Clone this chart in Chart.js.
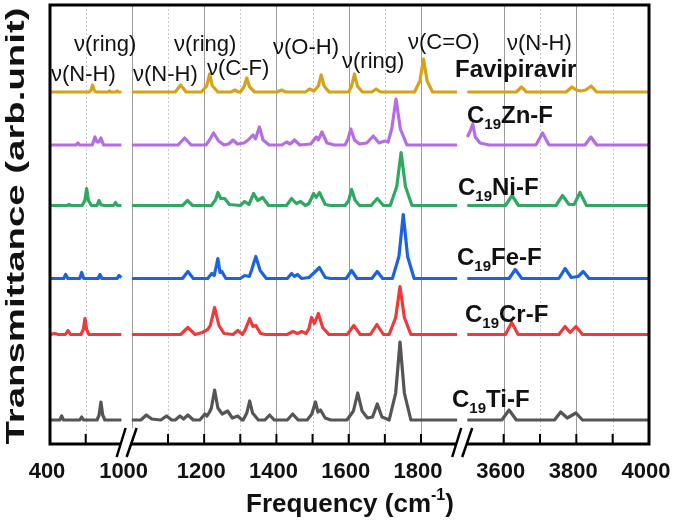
<!DOCTYPE html>
<html>
<head>
<meta charset="utf-8">
<script src="https://cdn.jsdelivr.net/npm/chart.js@4"></script>
<style>
  html, body { margin: 0; padding: 0; background: #fff; }
  #wrap { width: 673px; height: 526px; }
</style>
</head>
<body>
<div id="wrap"><canvas id="irChart" width="673" height="526"></canvas></div>
<script>
// spectra: [frequency cm-1, height above baseline], null = axis break
const favipiravir = [
  [400,0],[730,0],[745,2],[758,7],[771,2],[786,0],[890,0],[900,1],[910,0],[955,0],[965,1],[975,0],[1000,0], null,
  [1000,0],[1120,0],[1135,7],[1150,0],[1192,0],[1207,6],[1215,18],[1223,6],[1238,0],[1275,0],[1285,2],[1295,0],
  [1300,0],[1310,5],[1318,14],[1326,5],[1340,0],[1402,0],[1414,2],[1426,0],[1480,0],[1492,3],[1504,1],[1516,6],
  [1524,17],[1532,6],[1546,0],[1600,0],[1608,6],[1616,18],[1624,6],[1638,0],[1664,0],[1676,3],[1688,0],[1782,0],
  [1797,11],[1807,33],[1817,11],[1832,0],[1900,0], null,
  [3500,0],[3635,0],[3649,5],[3663,0],[3772,0],[3788,5],[3800,2],[3812,1],[3826,2],[3841,6],[3856,0],[4000,0]
];
const c19Zn = [
  [400,0],[620,0],[635,2],[650,0],[755,0],[778,8],[795,3],[810,3],[828,7],[850,0],[1000,0], null,
  [1000,0],[1128,0],[1146,7],[1164,0],[1205,0],[1215,5],[1226,12],[1240,4],[1255,0],[1268,1],[1280,5],[1292,1],
  [1310,2],[1322,5],[1335,10],[1342,6],[1353,18],[1363,5],[1380,0],[1415,0],[1428,3],[1438,1],[1450,5],[1465,0],
  [1495,1],[1510,8],[1516,5],[1526,13],[1540,2],[1560,0],[1590,0],[1598,6],[1606,16],[1616,5],[1630,1],[1650,2],
  [1668,9],[1684,2],[1699,4],[1709,3],[1719,16],[1731,46],[1743,16],[1761,0],[1900,0], null,
  [3500,8],[3508,14],[3515,21],[3522,8],[3535,2],[3560,0],[3689,0],[3707,12],[3725,0],[3824,0],[3840,8],[3856,0],[4000,0]
];
const c19Ni = [
  [400,0],[545,0],[560,1],[575,0],[670,0],[693,5],[708,17],[723,5],[748,0],[795,0],[811,5],[827,1],[850,0],
  [935,0],[951,3],[967,0],[1000,0], null,
  [1000,0],[1140,0],[1154,5],[1168,0],[1220,0],[1232,6],[1238,13],[1246,7],[1257,7],[1270,1],[1300,0],[1312,4],
  [1324,1],[1337,12],[1348,5],[1362,8],[1378,0],[1428,0],[1442,7],[1455,2],[1467,4],[1480,0],[1490,2],[1503,12],
  [1510,8],[1519,13],[1535,1],[1550,0],[1590,0],[1600,5],[1608,16],[1618,5],[1630,0],[1662,0],[1679,7],[1696,0],
  [1715,0],[1733,19],[1745,53],[1757,19],[1775,0],[1900,0], null,
  [3500,0],[3605,0],[3623,10],[3641,0],[3744,0],[3762,10],[3780,1],[3794,1],[3810,13],[3828,0],[4000,0]
];
const c19Fe = [
  [400,0],[515,0],[532,4],[550,0],[650,0],[666,6],[684,0],[805,0],[820,4],[836,0],[965,0],[979,3],[1000,1], null,
  [1000,0],[1140,0],[1155,7],[1170,0],[1210,0],[1221,5],[1228,3],[1238,20],[1244,6],[1249,7],[1260,0],[1300,0],
  [1312,3],[1325,2],[1331,8],[1343,22],[1355,8],[1372,0],[1430,0],[1442,5],[1450,2],[1458,4],[1470,0],[1490,1],
  [1505,6],[1519,11],[1535,1],[1550,0],[1593,0],[1608,8],[1623,0],[1664,0],[1679,7],[1694,0],[1721,0],[1739,22],
  [1751,64],[1763,22],[1781,0],[1900,0], null,
  [3500,0],[3615,0],[3632,9],[3650,0],[3752,0],[3769,10],[3786,1],[3805,2],[3819,7],[3835,0],[4000,0]
];
const c19Cr = [
  [400,0],[440,1],[470,0],[530,0],[551,4],[572,0],[660,0],[680,5],[694,16],[708,5],[728,0],[1000,0], null,
  [1000,0],[1135,0],[1155,7],[1175,0],[1195,2],[1210,5],[1217,9],[1229,27],[1241,9],[1255,1],[1280,0],[1293,4],
  [1306,0],[1314,5],[1326,16],[1335,8],[1343,9],[1356,1],[1370,0],[1430,0],[1445,3],[1458,1],[1470,3],[1482,1],
  [1490,6],[1497,17],[1505,11],[1516,21],[1528,7],[1545,0],[1596,0],[1614,9],[1632,0],[1660,0],[1678,10],[1696,0],
  [1712,0],[1730,17],[1742,48],[1754,17],[1772,0],[1900,0], null,
  [3500,0],[3605,0],[3622,12],[3640,0],[3752,0],[3769,8],[3783,2],[3799,8],[3817,0],[4000,0]
];
const c19Ti = [
  [400,0],[482,0],[498,4],[514,0],[650,0],[666,3],[682,0],[795,0],[813,5],[828,18],[843,5],[861,0],[1000,0], null,
  [1000,0],[1025,0],[1040,5],[1055,1],[1080,0],[1096,4],[1110,0],[1120,0],[1133,4],[1143,1],[1155,5],[1170,0],
  [1188,0],[1202,6],[1208,4],[1215,8],[1220,12],[1229,30],[1238,12],[1250,6],[1265,9],[1278,2],[1293,4],[1305,0],
  [1308,0],[1318,7],[1326,19],[1334,7],[1350,0],[1368,0],[1381,5],[1394,0],[1430,0],[1445,6],[1460,0],[1485,0],
  [1498,6],[1508,18],[1515,8],[1522,10],[1535,2],[1550,0],[1595,0],[1613,9],[1625,27],[1637,9],[1652,2],[1666,3],
  [1679,16],[1692,3],[1706,1],[1712,0],[1730,27],[1742,78],[1754,27],[1772,0],[1900,0], null,
  [3500,0],[3595,0],[3615,10],[3635,0],[3740,0],[3757,8],[3775,2],[3799,7],[3817,0],[4000,0]
];

const seriesNames = ['C19Ti-F', 'C19Cr-F', 'C19Fe-F', 'C19Ni-F', 'C19Zn-F', 'Favipiravir'];
const seriesPoints = [c19Ti, c19Cr, c19Fe, c19Ni, c19Zn, favipiravir];
const seriesOffsets = [24, 109.5, 165.5, 238.5, 299, 352];
const seriesColors = ['#555555', '#ee3a3a', '#1c63de', '#2fa862', '#b56de6', '#d6a21a'];

const tickLabels = [400, 1000, 1200, 1400, 1600, 1800, 3600, 3800, 4000];
const majorGrid = [1000, 1200, 1400, 1600, 1800, 3600, 3800];
const minorGrid = [700, 1100, 1300, 1500, 1700, 3700, 3900];
const innerTicks = [700, 1100, 1200, 1300, 1400, 1500, 1600, 1700, 1800, 3600, 3700, 3800, 3900];

const bandLabels = [
  ['ν(ring)', 74, 45], ['ν(N-H)', 51, 75], ['ν(N-H)', 133, 75], ['ν(ring)', 174, 45],
  ['ν(C-F)', 207, 69], ['ν(O-H)', 273, 48], ['ν(ring)', 342, 62], ['ν(C=O)', 408, 43], ['ν(N-H)', 507, 44]
];
const nameLabels = [
  ['C', '19', 'Ti-F', 452, 407], ['C', '19', 'Cr-F', 465, 322], ['C', '19', 'Fe-F', 457, 265],
  ['C', '19', 'Ni-F', 458, 195], ['C', '19', 'Zn-F', 467, 123], ['Favipiravir', '', '', 455, 77]
];

// broken axis: three frequency windows laid side by side
const segments = [
  { from: 400, to: 1000, start: 0, end: 71.5 },
  { from: 1000, to: 1900, start: 82, end: 407.8 },
  { from: 3500, to: 4000, start: 418, end: 600 }
];
function segPos(s, f) {
  return s.start + (f - s.from) * (s.end - s.start) / (s.to - s.from);
}
function labelPos(f) {
  const hits = segments.filter(s => f >= s.from && f <= s.to).map(s => segPos(s, f));
  return hits.reduce((a, b) => a + b, 0) / hits.length;
}
function gridPos(f) {
  const hits = segments.filter(s => f >= s.from && f <= s.to);
  return segPos(hits[hits.length - 1], f);
}
function toXY(points, offset) {
  let seg = 0;
  const out = [];
  points.forEach(p => {
    if (p === null) {
      out.push({ x: segments[seg].end + 1, y: null });
      seg++;
      return;
    }
    out.push({ x: segPos(segments[seg], p[0]), y: offset + p[1] });
  });
  return out;
}

const FONT = '"Liberation Sans", Arial, sans-serif';

const decor = {
  id: 'decor',
  beforeDatasetsDraw(chart) {
    const { ctx, chartArea: a, scales: { x } } = chart;
    ctx.save();
    ctx.lineWidth = 1;
    ctx.strokeStyle = '#9c9c9c';
    majorGrid.forEach(f => {
      const px = Math.round(x.getPixelForValue(gridPos(f))) + 0.5;
      ctx.beginPath(); ctx.moveTo(px, a.top); ctx.lineTo(px, a.bottom); ctx.stroke();
    });
    ctx.strokeStyle = '#c8c8c8';
    ctx.setLineDash([2, 2]);
    minorGrid.forEach(f => {
      const px = Math.round(x.getPixelForValue(gridPos(f))) + 0.5;
      ctx.beginPath(); ctx.moveTo(px, a.top); ctx.lineTo(px, a.bottom); ctx.stroke();
    });
    ctx.restore();
  },
  afterDatasetsDraw(chart) {
    const { ctx, chartArea: a, scales: { x } } = chart;
    ctx.save();
    // frame
    ctx.strokeStyle = '#000';
    ctx.lineWidth = 3;
    ctx.strokeRect(a.left, a.top, a.right - a.left, a.bottom - a.top);
    // inward tick marks
    ctx.lineWidth = 2;
    innerTicks.forEach(f => {
      const px = x.getPixelForValue(gridPos(f));
      ctx.beginPath(); ctx.moveTo(px, a.bottom); ctx.lineTo(px, a.bottom - 10); ctx.stroke();
    });
    // break marks
    for (let i = 0; i < segments.length - 1; i++) {
      const c = x.getPixelForValue((segments[i].end + segments[i + 1].start) / 2);
      ctx.fillStyle = '#fff';
      ctx.beginPath();
      ctx.moveTo(c - 10, a.bottom + 13); ctx.lineTo(c - 1, a.bottom - 16);
      ctx.lineTo(c + 10, a.bottom - 16); ctx.lineTo(c, a.bottom + 13);
      ctx.closePath(); ctx.fill();
      ctx.lineWidth = 2.5;
      ctx.beginPath();
      ctx.moveTo(c - 10, a.bottom + 13); ctx.lineTo(c - 1, a.bottom - 16);
      ctx.moveTo(c, a.bottom + 13); ctx.lineTo(c + 10, a.bottom - 16);
      ctx.stroke();
    }
    // band assignments
    ctx.fillStyle = '#111';
    ctx.font = '22px ' + FONT;
    ctx.textAlign = 'left';
    ctx.textBaseline = 'middle';
    bandLabels.forEach(([t, lx, ly]) => ctx.fillText(t, lx, ly));
    // sample names
    ctx.textBaseline = 'alphabetic';
    nameLabels.forEach(([a1, sub, a2, lx, ly]) => {
      ctx.font = 'bold 24px ' + FONT;
      ctx.fillText(a1, lx, ly);
      let cx = lx + ctx.measureText(a1).width;
      if (sub) {
        ctx.font = 'bold 15px ' + FONT;
        ctx.fillText(sub, cx, ly + 6);
        cx += ctx.measureText(sub).width;
        ctx.font = 'bold 24px ' + FONT;
        ctx.fillText(a2, cx, ly);
      }
    });
    // x title with superscript
    const t1 = 'Frequency (cm', sup = '-1', t2 = ')';
    ctx.font = 'bold 26px ' + FONT;
    const w1 = ctx.measureText(t1).width, w3 = ctx.measureText(t2).width;
    ctx.font = 'bold 16px ' + FONT;
    const w2 = ctx.measureText(sup).width;
    let tx = 350 - (w1 + w2 + w3) / 2;
    const ty = 512;
    ctx.font = 'bold 26px ' + FONT;
    ctx.fillText(t1, tx, ty);
    ctx.font = 'bold 16px ' + FONT;
    ctx.fillText(sup, tx + w1, ty - 12);
    ctx.font = 'bold 26px ' + FONT;
    ctx.fillText(t2, tx + w1 + w2, ty);
    // y title, stretched along its length like the original
    ctx.translate(16.5, 226);
    ctx.rotate(-Math.PI / 2);
    ctx.font = 'bold 26px ' + FONT;
    const yt = 'Transmittance (arb.unit)';
    const yw = ctx.measureText(yt).width;
    ctx.scale(437 / yw, 1);
    ctx.textAlign = 'center';
    ctx.textBaseline = 'middle';
    ctx.fillText(yt, 0, 0);
    ctx.restore();
  }
};

const ctx = document.getElementById('irChart').getContext('2d');
const irChart = new Chart(ctx, {
  type: 'line',
  data: {
    datasets: seriesNames.map((name, i) => ({
      label: name,
      data: toXY(seriesPoints[i], seriesOffsets[i]),
      borderColor: seriesColors[i],
      borderWidth: 3.2,
      pointRadius: 0,
      tension: 0,
      spanGaps: false,
      borderJoinStyle: 'round',
      fill: false
    }))
  },
  options: {
    responsive: false,
    animation: false,
    layout: { padding: { left: 50, right: 24, top: 5, bottom: 40 } },
    plugins: { legend: { display: false }, tooltip: { enabled: false } },
    scales: {
      x: {
        type: 'linear',
        min: 0,
        max: 600,
        grid: { display: false, drawTicks: false },
        border: { display: false },
        afterBuildTicks: axis => { axis.ticks = tickLabels.map(f => ({ value: labelPos(f) })); },
        afterFit: axis => { axis.height = 42; axis.paddingLeft = 0; axis.paddingRight = 0; },
        ticks: {
          autoSkip: false,
          maxRotation: 0,
          padding: 15,
          labelOffset: -3,
          color: '#111',
          font: { family: FONT, size: 22, weight: 'bold' },
          callback: (value, i) => String(tickLabels[i])
        }
      },
      y: { display: false, min: 0, max: 439 }
    }
  },
  plugins: [decor]
});
</script>
</body>
</html>
